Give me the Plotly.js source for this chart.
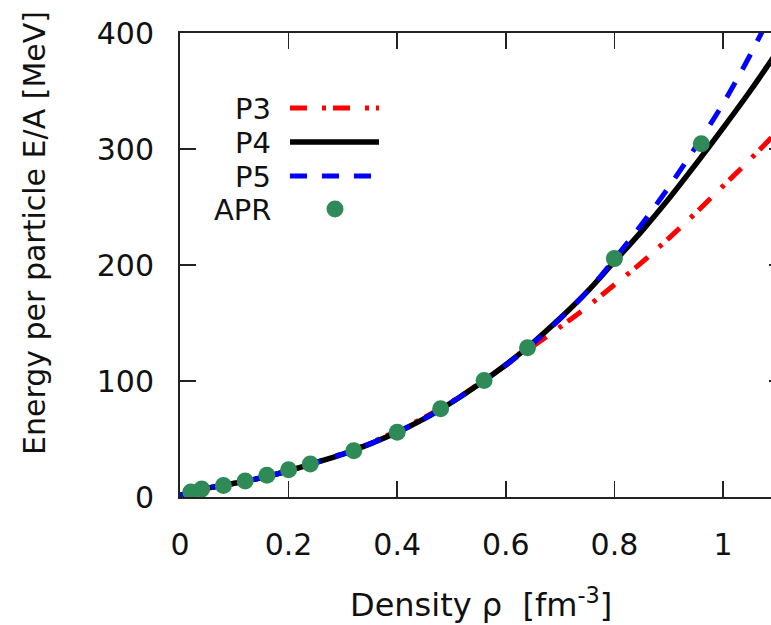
<!DOCTYPE html>
<html>
<head>
<meta charset="utf-8">
<script src="https://cdn.plot.ly/plotly-3.0.1.min.js"></script>
<style>
  html, body { margin: 0; padding: 0; overflow: hidden; background: #fff; }
  #chart { width: 786px; height: 625px; }
</style>
</head>
<body>
<div id="chart"></div>
<script>
// Density grid for the fitted curves (fm^-3)
const densityGrid = [0, 0.05, 0.1, 0.15, 0.2, 0.25, 0.3, 0.35, 0.4, 0.45, 0.5, 0.55,
                     0.6, 0.65, 0.7, 0.75, 0.8, 0.85, 0.9, 0.95, 1.0, 1.05, 1.1, 1.15];
// Energy per particle (MeV)
const p3Energy = [1.5, 7.5, 11.8, 16.6, 22.6, 29.8, 37.5, 46.5, 57, 68.5, 82, 97.5,
                  113.5, 130, 146.5, 164, 183, 202, 223, 245, 268, 291, 315, 340];
const p4Energy = [1.5, 7.5, 11.8, 16.6, 22.6, 29.6, 37, 45.8, 55.8, 67.5, 81.5, 97,
                  114, 133, 154, 177, 203, 229, 257, 287, 318, 350, 384, 419];
const p5Energy = [1.5, 7.5, 11.8, 16.6, 22.6, 29.6, 37, 45.8, 55.8, 67.5, 81.5, 97,
                  113.5, 132.5, 153.5, 177, 205, 235, 267, 302, 339, 381, 428, 480];
// APR data points
const aprDensity = [0.02, 0.04, 0.08, 0.12, 0.16, 0.2, 0.24, 0.32, 0.4, 0.48, 0.56, 0.64, 0.8, 0.96];
const aprEnergy  = [4.4, 6.8, 10.0, 13.8, 18.8, 23.4, 28.5, 39.9, 55.8, 76.1, 100.5, 128.6, 205.5, 304.6];

const xTicks = [0, 0.2, 0.4, 0.6, 0.8, 1];
const yTicks = [0, 100, 200, 300, 400];
const legendNames = ['P3', 'P4', 'P5', 'APR'];

const FONT = 'DejaVu Sans, Verdana, sans-serif';
const RED = '#ff0000', BLACK = '#000000', BLUE = '#0000ff', GREEN = '#2e8b57';
const P3DASH = '17px,15px,4px,7px';
const P5DASH = '17px,15px';

const traces = [
  {x: densityGrid, y: p3Energy, mode: 'lines', name: 'P3',
   line: {color: RED, width: 5, dash: P3DASH, shape: 'spline'}},
  {x: densityGrid, y: p4Energy, mode: 'lines', name: 'P4',
   line: {color: BLACK, width: 5.5, shape: 'spline'}},
  {x: densityGrid, y: p5Energy, mode: 'lines', name: 'P5',
   line: {color: BLUE, width: 5, dash: P5DASH, shape: 'spline'}},
  {x: aprDensity, y: aprEnergy, mode: 'markers', name: 'APR',
   marker: {color: GREEN, size: 17, line: {width: 0}}}
];

// plot area geometry (pixels) for the hand-made key
const L = 180, R = 785, T = 33, B = 497;
const px = v => (v - L) / (R - L);
const py = v => (B - v) / (B - T);

const rowsY = [108, 142, 176, 209];
const styles = [
  {color: RED, width: 5, dash: P3DASH},
  {color: BLACK, width: 5.5, dash: 'solid'},
  {color: BLUE, width: 5, dash: P5DASH}
];
const shapes = [];
const annotations = [];
legendNames.forEach((name, i) => {
  annotations.push({xref: 'paper', yref: 'paper', x: px(273), y: py(rowsY[i] + 1),
    xanchor: 'right', yanchor: 'middle', showarrow: false, text: name,
    font: {family: FONT, size: 29, color: '#111'}});
  if (i < 3) {
    shapes.push({type: 'line', xref: 'paper', yref: 'paper',
      x0: px(290), x1: px(379), y0: py(rowsY[i]), y1: py(rowsY[i]), line: styles[i]});
  } else {
    const r = 8.5;
    shapes.push({type: 'circle', xref: 'paper', yref: 'paper',
      x0: px(335 - r), x1: px(335 + r), y0: py(rowsY[i] + r), y1: py(rowsY[i] - r),
      fillcolor: GREEN, line: {width: 0}});
  }
});
annotations.push({xref: 'paper', yref: 'paper', x: px(34), y: py(233),
  xanchor: 'center', yanchor: 'middle', showarrow: false, textangle: -90,
  text: 'Energy per particle E/A [MeV]', font: {family: FONT, size: 30, color: '#111'}});
annotations.push({xref: 'paper', yref: 'paper', x: px(481), y: py(603),
  xanchor: 'center', yanchor: 'middle', showarrow: false,
  text: 'Density ρ  [fm<sup>-3</sup>]', font: {family: FONT, size: 32, color: '#111'}});

const axisCommon = {
  showline: true, linecolor: '#222', linewidth: 2, mirror: 'ticks',
  ticks: 'inside', ticklen: 16, tickwidth: 1.5, tickcolor: '#222',
  showgrid: false, zeroline: false,
  tickfont: {family: FONT, size: 30, color: '#111'}
};

const layout = {
  width: 786, height: 625,
  margin: {l: L, r: 786 - R, t: T, b: 625 - B},
  paper_bgcolor: '#fff', plot_bgcolor: '#fff',
  showlegend: false,
  xaxis: Object.assign({}, axisCommon, {
    range: [0, (R - L) / 543], tickvals: xTicks, ticktext: xTicks.map(String),
    ticklabelstandoff: 20}),
  yaxis: Object.assign({}, axisCommon, {
    range: [0, 400], tickvals: yTicks, ticktext: yTicks.map(String),
    ticklabelstandoff: 18}),
  shapes: shapes,
  annotations: annotations
};

Plotly.newPlot('chart', traces, layout, {displayModeBar: false, staticPlot: true});
</script>
</body>
</html>
